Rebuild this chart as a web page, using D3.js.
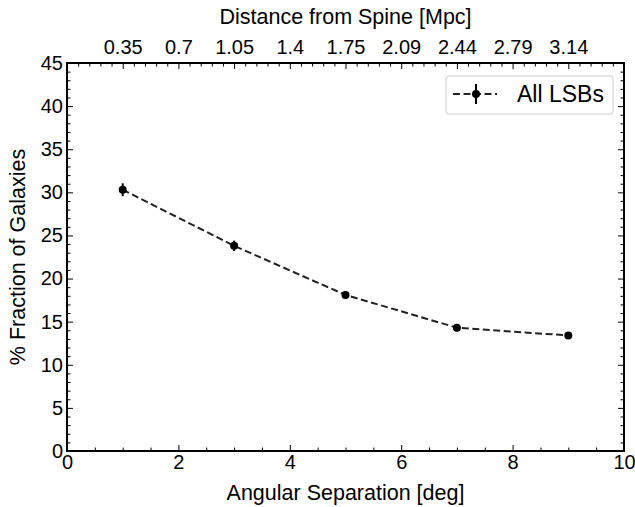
<!DOCTYPE html>
<html>
<head>
<meta charset="utf-8">
<script src="https://cdn.jsdelivr.net/npm/d3@7"></script>
<style>
  body { margin: 0; background: #fff; }
  text { font-family: "Liberation Sans", Arial, sans-serif; fill: #000; }
</style>
</head>
<body>
<div id="chart"></div>
<script>
// Data.
const angularSeparation = [1, 3, 5, 7, 9];
const fractionAll = [30.3, 23.8, 18.1, 14.3, 13.4];
const fractionErr = [0.75, 0.6, 0.45, 0.3, 0.3];

const bottomTicks = [0, 2, 4, 6, 8, 10];
const leftTicks = [0, 5, 10, 15, 20, 25, 30, 35, 40, 45];
const topTickPositions = [1, 2, 3, 4, 5, 6, 7, 8, 9];
const topTickLabels = ['0.35', '0.7', '1.05', '1.4', '1.75', '2.09', '2.44', '2.79', '3.14'];

const width = 635;
const height = 507;
const margin = { top: 63, right: 11, bottom: 56, left: 67 };
const tickFont = '20px';
const titleFont = '21.5px';

const svg = d3.select('#chart')
  .append('svg')
  .attr('width', width)
  .attr('height', height);

const x = d3.scaleLinear().domain([0, 10]).range([margin.left, width - margin.right]);
const y = d3.scaleLinear().domain([0, 45]).range([height - margin.bottom, margin.top]);

const majorLen = 6;
const minorLen = 3.5;

const [x0, x1] = x.range();
const [y0, y1] = y.range();
const minorX = d3.range(0, 10.01, 0.5).filter(v => v % 2 !== 0);
const minorY = d3.range(0, 45.01, 1).filter(v => v % 5 !== 0);
const minorTop = d3.range(0, 10.01, 0.2).map(v => +v.toFixed(1)).filter(v => Math.abs(v - Math.round(v)) > 1e-6);

// Ticks only, pointing into the plot.
function drawTicksInto(g, axis, values, len) {
  g.call(axis.tickValues(values).tickSize(-len).tickFormat(''));
  g.select('.domain').remove();
  g.selectAll('line').attr('stroke', '#000').attr('stroke-width', 1);
}

// Bottom axis.
const bottomAxis = svg.append('g')
  .attr('transform', `translate(0,${y0})`)
  .call(d3.axisBottom(x).tickValues(bottomTicks).tickSize(-majorLen).tickPadding(4).tickFormat(d3.format('d')));
bottomAxis.select('.domain').remove();
bottomAxis.selectAll('line').attr('stroke', '#000');
bottomAxis.selectAll('text').style('font-size', tickFont);

svg.append('g').attr('transform', `translate(0,${y0})`).call(g => drawTicksInto(g, d3.axisBottom(x), minorX, minorLen));

// Left axis.
const leftAxis = svg.append('g')
  .attr('transform', `translate(${x0},0)`)
  .call(d3.axisLeft(y).tickValues(leftTicks).tickSize(-majorLen).tickPadding(4).tickFormat(d3.format('d')));
leftAxis.select('.domain').remove();
leftAxis.selectAll('line').attr('stroke', '#000');
leftAxis.selectAll('text').style('font-size', tickFont);

svg.append('g').attr('transform', `translate(${x0},0)`).call(g => drawTicksInto(g, d3.axisLeft(y), minorY, minorLen));

// Right axis (ticks only).
svg.append('g').attr('transform', `translate(${x1},0)`).call(g => drawTicksInto(g, d3.axisRight(y), leftTicks, majorLen));
svg.append('g').attr('transform', `translate(${x1},0)`).call(g => drawTicksInto(g, d3.axisRight(y), minorY, minorLen));

// Top axis, distance from spine.
const topAxis = svg.append('g')
  .attr('transform', `translate(0,${y1})`)
  .call(d3.axisTop(x).tickValues(topTickPositions).tickSize(-majorLen).tickPadding(9)
    .tickFormat((d, i) => topTickLabels[i]));
topAxis.select('.domain').remove();
topAxis.selectAll('line').attr('stroke', '#000');
topAxis.selectAll('text').style('font-size', tickFont);

svg.append('g').attr('transform', `translate(0,${y1})`).call(g => drawTicksInto(g, d3.axisTop(x), minorTop, minorLen));

// Frame.
svg.append('rect')
  .attr('x', x0)
  .attr('y', y1)
  .attr('width', x1 - x0)
  .attr('height', y0 - y1)
  .attr('fill', 'none')
  .attr('stroke', '#000')
  .attr('stroke-width', 2);

// Axis titles.
svg.append('text')
  .attr('x', (x0 + x1) / 2)
  .attr('y', 500)
  .attr('text-anchor', 'middle')
  .style('font-size', titleFont)
  .text('Angular Separation [deg]');

svg.append('text')
  .attr('x', (x0 + x1) / 2)
  .attr('y', 24)
  .attr('text-anchor', 'middle')
  .style('font-size', titleFont)
  .text('Distance from Spine [Mpc]');

svg.append('text')
  .attr('transform', `translate(25,${(y0 + y1) / 2}) rotate(-90)`)
  .attr('text-anchor', 'middle')
  .style('font-size', titleFont)
  .text('% Fraction of Galaxies');

// Series.
const points = angularSeparation.map((a, i) => ({ a, f: fractionAll[i], e: fractionErr[i] }));

svg.append('path')
  .datum(points)
  .attr('fill', 'none')
  .attr('stroke', '#222')
  .attr('stroke-width', 2)
  .attr('stroke-dasharray', '7,3.5')
  .attr('d', d3.line().x(d => x(d.a)).y(d => y(d.f)));

svg.append('g')
  .selectAll('line')
  .data(points)
  .join('line')
  .attr('x1', d => x(d.a))
  .attr('x2', d => x(d.a))
  .attr('y1', d => y(d.f - d.e))
  .attr('y2', d => y(d.f + d.e))
  .attr('stroke', '#000')
  .attr('stroke-width', 2);

svg.append('g')
  .selectAll('circle')
  .data(points)
  .join('circle')
  .attr('cx', d => x(d.a))
  .attr('cy', d => y(d.f))
  .attr('r', 4)
  .attr('fill', '#000');

// Legend.
const legend = svg.append('g').attr('transform', 'translate(446,76)');
legend.append('rect')
  .attr('width', 167)
  .attr('height', 38)
  .attr('rx', 3)
  .attr('fill', '#fff')
  .attr('stroke', '#ccc')
  .attr('stroke-width', 1);
legend.append('line')
  .attr('x1', 7).attr('x2', 51)
  .attr('y1', 18).attr('y2', 18)
  .attr('stroke', '#222')
  .attr('stroke-width', 2)
  .attr('stroke-dasharray', '7,3.5');
legend.append('line')
  .attr('x1', 30).attr('x2', 30)
  .attr('y1', 8).attr('y2', 28)
  .attr('stroke', '#000')
  .attr('stroke-width', 2);
legend.append('circle')
  .attr('cx', 30).attr('cy', 18).attr('r', 4).attr('fill', '#000');
legend.append('text')
  .attr('x', 71)
  .attr('y', 26)
  .style('font-size', '23px')
  .text('All LSBs');
</script>
</body>
</html>
